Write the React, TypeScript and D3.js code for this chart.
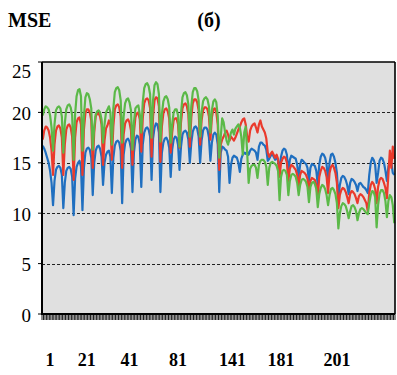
import React from "react";
import * as d3 from "d3";

const blue = [
  16.7, 16.4, 16.0, 15.5, 15.0, 14.2, 13.0, 10.8,
  13.2, 14.3, 14.6, 14.7, 14.5, 13.8, 10.5,
  13.0, 14.2, 14.5, 14.6, 14.4, 13.6, 9.8,
  13.4, 14.6, 15.0, 15.2, 14.6, 10.3,
  14.5, 16.0, 16.4, 16.5, 16.3, 15.5, 11.8,
  15.0, 16.2, 16.6, 16.7, 16.4, 15.6, 12.8,
  15.0, 15.8, 16.1, 16.2, 15.6, 12.0,
  15.5, 16.7, 17.1, 17.2, 17.0, 16.2, 11.0,
  15.8, 16.9, 17.3, 17.4, 17.1, 16.4, 12.1,
  16.0, 17.3, 17.7, 17.6, 16.8, 12.6,
  16.8, 18.0, 18.4, 18.5, 18.3, 17.6, 13.3,
  17.4, 18.5, 18.9, 18.8, 18.0, 12.1,
  16.0, 17.0, 17.4, 17.5, 17.2, 16.5, 13.6,
  16.3, 17.3, 17.6, 17.5, 16.8, 14.3,
  16.6, 17.8, 18.1, 18.2, 18.0, 17.3, 15.0,
  17.0, 18.1, 18.5, 18.6, 18.4, 17.6, 15.0,
  17.2, 18.2, 18.5, 18.5, 18.3, 17.5, 15.2,
  17.0, 17.8, 18.0, 17.8, 16.8, 12.1,
  16.0, 16.6, 16.5, 16.3, 16.2, 15.6, 13.0,
  14.8, 15.5, 15.7, 15.6, 15.5, 15.0, 14.1,
  15.4, 15.8, 16.0, 15.9, 16.1, 15.8,
  16.2, 16.4, 16.3, 16.2, 16.0, 15.3,
  16.6, 17.0, 17.0, 16.8, 16.7, 16.3, 15.2,
  15.4, 15.7, 15.9, 15.6, 15.3, 15.6, 15.2, 14.2,
  15.6, 16.2, 16.4, 16.3, 15.8, 14.0,
  15.3, 15.7, 15.6, 15.5, 15.4, 14.8, 13.6,
  14.8, 15.3, 15.2, 15.0, 14.9, 14.5, 13.2,
  14.5, 14.9, 14.8, 14.7, 14.2, 12.8,
  14.8, 15.6, 15.9, 15.8, 15.5, 14.8, 13.2,
  15.0, 15.8, 15.9, 15.6, 15.0, 14.0, 11.6,
  12.8, 13.5, 13.7, 13.6, 13.3, 12.8, 11.9,
  13.0, 13.4, 13.3, 13.1, 12.8, 12.2,
  12.9, 13.0, 12.8, 12.6, 12.5, 12.3, 12.0,
  13.8, 15.0, 15.5, 15.3, 14.8, 13.0,
  14.0, 15.2, 15.5, 15.4, 15.0, 14.2, 13.2,
  14.6, 15.2, 15.0, 14.0, 13.8,
];

const red = [
  17.3, 18.2, 18.6, 18.5, 18.2, 17.5, 16.2, 13.8,
  16.8, 18.2, 18.6, 18.7, 18.4, 17.5, 13.8,
  16.8, 18.3, 18.7, 18.8, 18.5, 17.6, 13.3,
  17.5, 19.0, 19.4, 19.5, 18.8, 13.8,
  18.3, 19.9, 20.3, 20.3, 20.0, 19.2, 14.5,
  18.0, 19.6, 19.9, 19.9, 19.6, 18.8, 14.8,
  17.2, 18.4, 18.7, 19.2, 18.8, 15.3,
  18.6, 20.3, 20.7, 20.8, 20.5, 19.6, 14.5,
  17.8, 18.9, 19.2, 19.3, 19.0, 18.2, 14.8,
  18.0, 19.5, 19.9, 20.0, 19.3, 16.1,
  19.4, 20.9, 21.3, 21.4, 21.2, 20.4, 15.6,
  19.6, 21.2, 21.5, 21.4, 20.6, 15.1,
  18.6, 19.9, 20.3, 20.4, 20.1, 19.4, 16.0,
  18.0, 19.2, 19.4, 19.4, 18.8, 16.5,
  19.0, 20.4, 20.8, 20.9, 20.6, 19.8, 16.6,
  19.5, 20.9, 21.3, 21.3, 21.0, 20.2, 16.8,
  19.2, 20.2, 20.5, 20.5, 20.3, 19.6, 17.3,
  19.5, 20.3, 20.4, 20.0, 18.8, 14.3,
  16.8, 17.3, 17.6, 18.0, 18.2, 17.8, 17.2,
  17.6, 17.4, 17.2, 17.5, 17.9, 18.3, 18.6,
  19.0, 19.3, 19.4, 18.8, 17.6, 17.1,
  18.2, 18.6, 18.8, 18.9, 18.5, 18.0,
  18.8, 19.2, 18.6, 18.3, 18.0, 17.4, 16.0,
  15.6, 15.9, 16.1, 15.8, 15.5, 15.8, 15.4, 13.6,
  15.0, 15.4, 15.6, 15.5, 15.0, 13.2,
  14.4, 14.8, 14.7, 14.5, 14.3, 13.8, 12.6,
  13.8, 14.2, 14.1, 14.0, 13.8, 13.4, 12.2,
  13.2, 13.5, 13.4, 13.3, 12.8, 11.5,
  13.6, 14.2, 14.6, 14.5, 14.2, 13.6, 12.0,
  14.0, 14.6, 14.8, 14.5, 14.0, 13.0, 10.5,
  11.8, 12.3, 12.5, 12.4, 12.1, 11.6, 11.0,
  11.9, 12.2, 12.1, 11.9, 11.5, 11.0,
  11.7, 11.9, 11.8, 11.6, 11.3, 11.0, 10.2,
  12.0, 12.8, 13.1, 12.9, 12.4, 11.0,
  12.6, 13.3, 13.5, 13.4, 13.0, 12.5, 11.5,
  13.8, 16.2, 14.5, 16.6, 15.4,
];

const green = [
  19.7, 20.3, 20.6, 20.5, 20.3, 19.7, 18.5, 16.2,
  18.8, 20.2, 20.5, 20.6, 20.4, 19.6, 16.0,
  18.9, 20.3, 20.7, 20.8, 20.5, 19.7, 15.3,
  19.8, 21.6, 22.2, 22.3, 21.6, 16.2,
  19.6, 21.5, 21.9, 21.8, 21.3, 20.4, 16.3,
  18.6, 19.8, 20.1, 20.2, 20.0, 19.3, 17.0,
  18.8, 20.0, 20.3, 20.6, 20.0, 16.8,
  20.4, 22.0, 22.4, 22.5, 22.2, 21.2, 17.0,
  19.6, 20.9, 21.3, 21.4, 21.0, 20.2, 16.3,
  19.0, 20.4, 20.6, 20.7, 19.8, 18.0,
  21.0, 22.4, 22.8, 22.9, 22.6, 21.8, 17.5,
  21.2, 22.7, 23.0, 22.8, 21.8, 17.1,
  19.8, 21.1, 21.5, 21.6, 21.3, 20.5, 17.0,
  18.8, 20.0, 20.3, 20.3, 19.7, 16.6,
  19.9, 21.5, 21.9, 22.0, 21.7, 20.8, 17.6,
  20.6, 22.0, 22.4, 22.4, 22.1, 21.2, 17.6,
  20.0, 21.1, 21.4, 21.5, 21.3, 20.6, 18.0,
  20.2, 21.1, 21.3, 21.0, 19.6, 15.5,
  17.5, 19.4, 19.0, 18.0, 17.2, 16.8, 17.4,
  18.0, 18.3, 17.8, 18.4, 18.6, 18.8, 18.5,
  17.6, 15.8, 18.0, 18.6, 16.0, 13.0,
  14.4, 14.7, 14.8, 14.8, 14.5, 13.5,
  14.8, 15.2, 15.3, 15.3, 15.1, 14.6, 12.8,
  14.5, 15.0, 15.1, 15.0, 14.9, 14.7, 14.2, 11.3,
  13.6, 14.2, 14.3, 14.2, 13.8, 11.8,
  13.2, 13.8, 13.9, 13.8, 13.6, 13.0, 11.8,
  12.8, 13.3, 13.4, 13.3, 13.1, 12.6, 11.1,
  12.6, 13.0, 13.1, 12.9, 12.4, 10.6,
  11.9, 12.5, 12.8, 12.7, 12.4, 11.8, 10.8,
  11.8, 12.4, 12.5, 12.3, 11.9, 11.0, 8.5,
  10.0, 10.7, 11.0, 10.9, 10.7, 10.2, 9.5,
  10.2, 10.7, 10.8, 10.6, 10.2, 9.3,
  10.0, 10.4, 10.5, 10.4, 10.2, 10.0, 9.9,
  11.0, 11.8, 12.2, 12.1, 11.6, 8.6,
  10.8, 11.9, 12.3, 12.3, 12.0, 11.2, 9.6,
  11.2, 11.8, 11.6, 10.8, 9.0,
];

const yTicks = [0, 5, 10, 15, 20, 25];
const xLabels = ["1", "21", "41", "81", "141", "181", "201"];
const xLabelIdx = [5, 30, 59, 92, 129, 162, 200];

const series = [
  { name: "blue", values: blue, color: "#1f6fc0" },
  { name: "red", values: red, color: "#ea3a2c" },
  { name: "green", values: green, color: "#5bb948" },
];

export default function App() {
  const W = 397;
  const H = 375;
  const left = 42;
  const right = 395;
  const top = 62;
  const bottom = 314;
  const n = blue.length;

  const x = d3.scaleBand<number>().domain(d3.range(n)).range([left, right]).padding(0);
  const y = d3.scaleLinear().domain([0, 25]).range([bottom, top]);
  const cx = (i: number) => (x(i) as number) + x.bandwidth() / 2;

  const line = d3
    .line<number>()
    .x((_, i) => cx(i))
    .y((d) => y(d));

  const serif = "'Liberation Serif', 'Times New Roman', serif";

  return (
    <svg
      width={W}
      height={H}
      style={{ position: "absolute", left: 0, top: 0, background: "#fff" }}
    >
      <rect x={left} y={top} width={right - left} height={bottom - top} fill="#e0e0e0" />
      {yTicks
        .filter((t) => t > 0 && t < 25)
        .map((t) => (
          <line
            key={"g" + t}
            x1={left}
            x2={right}
            y1={Math.round(y(t)) + 0.5}
            y2={Math.round(y(t)) + 0.5}
            stroke="#222"
            strokeWidth={1}
            strokeDasharray="3,2"
          />
        ))}
      {series.map((s) => (
        <path
          key={s.name}
          d={line(s.values) || ""}
          fill="none"
          stroke={s.color}
          strokeWidth={2.2}
          strokeLinejoin="round"
        />
      ))}
      {/* frame */}
      <line x1={left} x2={right} y1={top} y2={top} stroke="#000" strokeWidth={1.6} />
      <line x1={right} x2={right} y1={top} y2={bottom} stroke="#000" strokeWidth={1.6} />
      <line x1={left} x2={left} y1={top} y2={bottom + 1} stroke="#000" strokeWidth={2} />
      <line x1={left - 1} x2={right} y1={bottom} y2={bottom} stroke="#000" strokeWidth={2} />
      {/* x ticks */}
      {d3.range(n + 1).map((i) => {
        const xx = i < n ? (x(i) as number) : right;
        return (
          <line key={"t" + i} x1={xx} x2={xx} y1={bottom} y2={bottom + 6} stroke="#000" strokeWidth={0.9} />
        );
      })}
      {/* y ticks */}
      {yTicks.map((t) => (
        <line key={"yt" + t} x1={left - 4} x2={left} y1={y(t)} y2={y(t)} stroke="#000" strokeWidth={1} />
      ))}
      {yTicks.map((t) => (
        <text
          key={"yl" + t}
          x={31}
          y={y(t) + (t === 25 ? 9 : 1)}
          dy="0.35em"
          textAnchor="end"
          fontFamily={serif}
          fontSize={19}
          fill="#000"
        >
          {t}
        </text>
      ))}
      {xLabels.map((lab, k) => (
        <text
          key={"xl" + k}
          x={cx(xLabelIdx[k])}
          y={366}
          textAnchor="middle"
          fontFamily={serif}
          fontWeight="bold"
          fontSize={18}
          fill="#000"
        >
          {lab}
        </text>
      ))}
      <text x={8} y={27} fontFamily={serif} fontWeight="bold" fontSize={20} fill="#000">
        MSE
      </text>
      <text x={209} y={27} textAnchor="middle" fontFamily={serif} fontWeight="bold" fontSize={20} fill="#000">
        (б)
      </text>
    </svg>
  );
}
